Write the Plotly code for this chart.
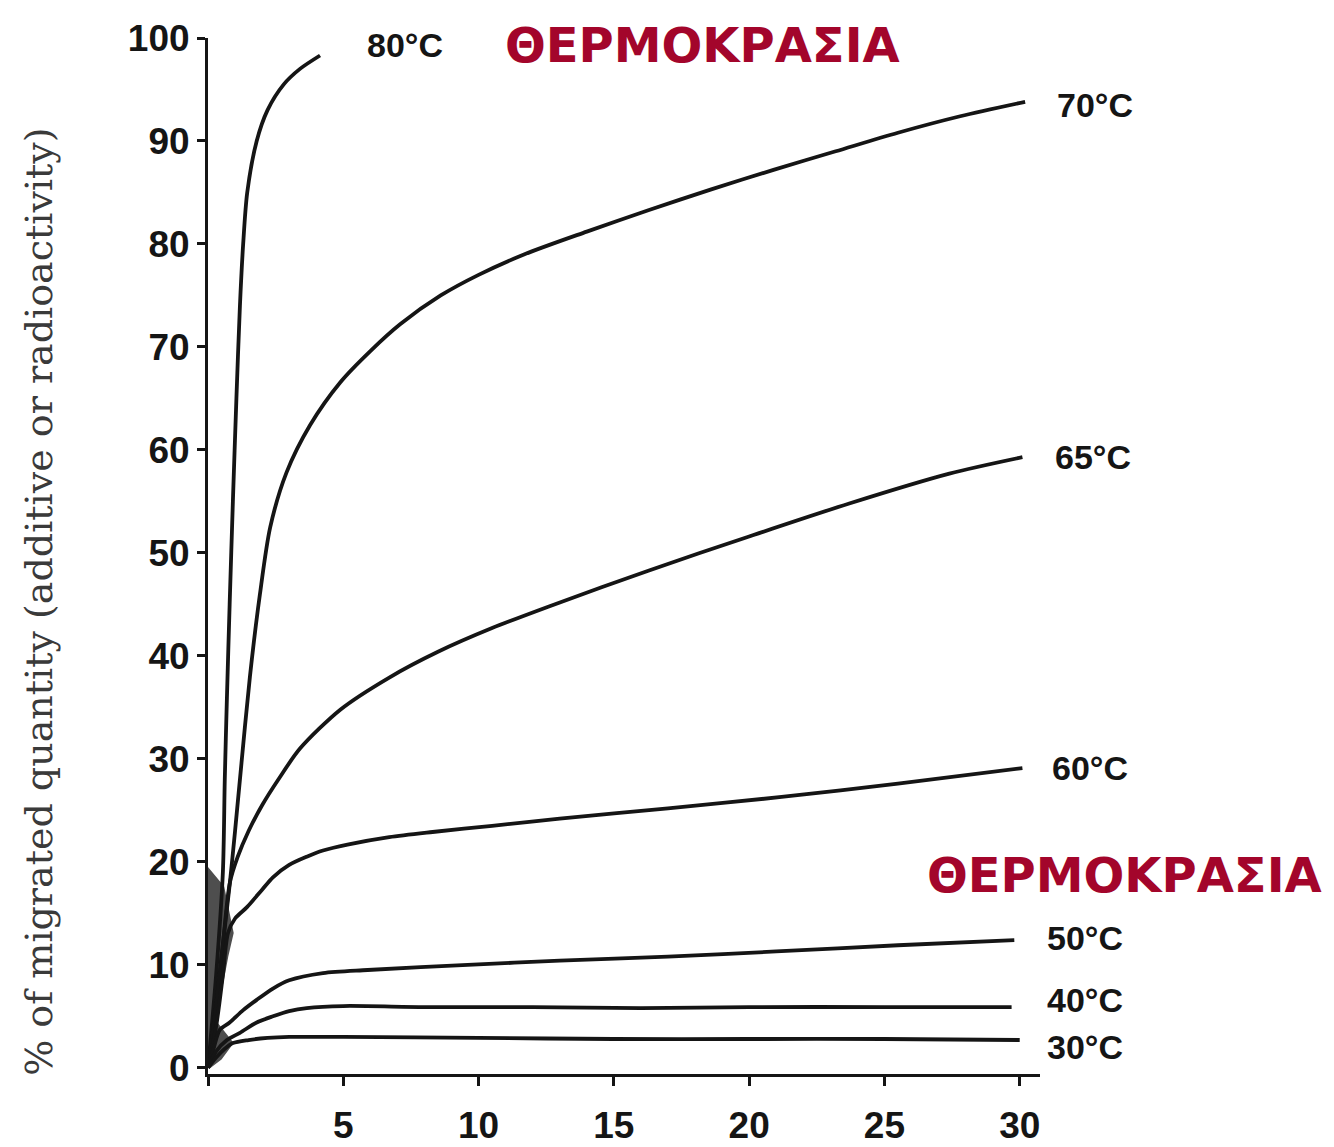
"""
Migration vs time at several temperatures, redrawn with Plotly.
"""
import plotly.graph_objects as go

# ─── Data ─────────────────────────────────────────────────────────────────────

t80 = [0, 0.3, 0.55, 0.62, 0.7, 0.8, 0.92, 1.05, 1.18, 1.3, 1.45, 1.8, 2.2, 2.8, 3.4, 4.14]
m80 = [0, 9, 19, 28, 36, 45, 55, 65, 74, 80, 85, 90, 93, 95.5, 97, 98.3]

t70 = [0, 0.3, 0.55, 0.81, 1.0, 1.18, 1.55, 1.92, 2.3, 2.9, 3.77, 4.9, 6.0, 7.1, 8.6,
       10.0, 11.7, 14.0, 16.3, 18.6, 20.9, 23.2, 25.5, 27.8, 30.2]
m70 = [0, 6, 12, 18, 23, 28, 38, 46, 52.5, 57.8, 62.4, 66.6, 69.6, 72.2, 75.0,
       77.0, 79.0, 81.2, 83.3, 85.3, 87.2, 89, 90.8, 92.4, 93.8]

t65 = [0, 0.3, 0.55, 0.81, 1.1, 1.5, 2.0, 2.6, 3.4, 4.9, 6.7, 8.5, 10.5, 12.6,
       16.3, 20, 23.7, 27.4, 30.1]
m65 = [0, 6, 12, 18, 20.5, 23, 25.5, 28, 31.0, 34.8, 37.9, 40.4, 42.7, 44.8,
       48.3, 51.6, 54.8, 57.7, 59.3]

t60 = [0, 0.3, 0.55, 0.74, 1.0, 1.44, 2.0, 2.4, 3.0, 3.65, 4.25, 5.2, 6.7, 8.3,
       10.5, 13, 17, 21.2, 25.5, 30.1]
m60 = [0, 4, 9, 13.1, 14.5, 15.6, 17.3, 18.5, 19.7, 20.5, 21.1, 21.7, 22.4, 22.9,
       23.5, 24.2, 25.2, 26.3, 27.6, 29.1]

t50 = [0, 0.2, 0.44, 0.8, 1.3, 1.8, 2.4, 3.0, 4.25, 5.9, 9.6, 13, 17, 21, 25.5, 29.8]
m50 = [0, 1.8, 3.7, 4.4, 5.6, 6.6, 7.7, 8.5, 9.2, 9.5, 10, 10.4, 10.8, 11.3, 11.9, 12.4]

t40 = [0, 0.3, 0.7, 1.18, 1.8, 2.4, 3.0, 3.65, 5, 8, 12, 16, 20, 25, 29.7]
m40 = [0, 1.6, 2.7, 3.4, 4.4, 5.0, 5.5, 5.8, 6.0, 5.9, 5.9, 5.8, 5.9, 5.9, 5.9]

t30 = [0, 0.3, 0.6, 0.92, 1.5, 2.2, 3.0, 5, 10, 15, 20, 25, 30]
m30 = [0, 1.0, 1.8, 2.4, 2.7, 2.9, 3.0, 3.0, 2.9, 2.8, 2.8, 2.8, 2.7]

# shaded envelope near the origin where the curves merge
wedge_t = [0, 0, 0.6, 0.95, 0.75, 0.45, 0.35, 0.95, 0.5, 0.1]
wedge_m = [0, 19.5, 17.6, 13.1, 10.8, 6.6, 4.4, 2.4, 0.8, 0]

series = [
    ("80°C", t80, m80),
    ("70°C", t70, m70),
    ("65°C", t65, m65),
    ("60°C", t60, m60),
    ("50°C", t50, m50),
    ("40°C", t40, m40),
    ("30°C", t30, m30),
]

# label anchor (time, %) for each curve
label_pos = {
    "80°C": (7.28, 99.3),
    "70°C": (32.77, 93.5),
    "65°C": (32.7, 59.3),
    "60°C": (32.6, 29.1),
    "50°C": (32.4, 12.6),
    "40°C": (32.4, 6.6),
    "30°C": (32.4, 2.0),
}

x_ticks = [0, 5, 10, 15, 20, 25, 30]
x_ticktext = ["", "5", "10", "15", "20", "25", "30"]
y_ticks = [0, 10, 20, 30, 40, 50, 60, 70, 80, 90, 100]

y_title = "% of migrated quantity (additive or radioactivity)"
banner = "ΘΕΡΜΟΚΡΑΣΙΑ"

X_RANGE = [0, 30.75]
Y_RANGE = [-0.6, 100]

# ─── Style ────────────────────────────────────────────────────────────────────

_INK = "#151515"
_RED = "#A3052B"
_SANS = "Liberation Sans, Arial, sans-serif"
_TICK_FONT = dict(family=_SANS, size=37, color=_INK, weight="bold")


def _paper(x, y):
    """Data -> paper coords (annotations outside the range are otherwise hidden)."""
    px = (x - X_RANGE[0]) / (X_RANGE[1] - X_RANGE[0])
    py = (y - Y_RANGE[0]) / (Y_RANGE[1] - Y_RANGE[0])
    return px, py


fig = go.Figure()

fig.add_trace(go.Scatter(
    x=wedge_t, y=wedge_m, mode="lines", fill="toself",
    fillcolor="#4e4e4e", line=dict(width=0, color="#4e4e4e"),
    hoverinfo="skip", showlegend=False,
))

for name, t, m in series:
    fig.add_trace(go.Scatter(
        x=t, y=m, mode="lines", name=name,
        line=dict(color=_INK, width=3.8, shape="spline", smoothing=0.8),
        showlegend=False,
    ))

for name, (lx, ly) in label_pos.items():
    ax, ay = _paper(lx, ly)
    fig.add_annotation(
        x=ax, y=ay, xref="paper", yref="paper", text=name, showarrow=False,
        xanchor="center", yanchor="middle",
        font=dict(family=_SANS, size=34, color=_INK, weight="bold"),
    )

# y-axis title (serif, rotated)
fig.add_annotation(
    x=-0.204, y=0.456, xref="paper", yref="paper", text=y_title,
    textangle=-90, showarrow=False, xanchor="center", yanchor="middle",
    font=dict(family="DejaVu Serif, serif", size=38, color="#3a3a3a"),
)

# red banners
for bx, by in [(0.594, 0.993), (1.102, 0.192)]:
    fig.add_annotation(
        x=bx, y=by, xref="paper", yref="paper", text=banner, showarrow=False,
        xanchor="center", yanchor="middle",
        font=dict(family="DejaVu Sans, Verdana, sans-serif", size=48, color=_RED, weight="bold"),
    )

# page body has an 8px margin, so the figure is 8px smaller on each axis
fig.update_layout(
    width=1326, height=1139,
    paper_bgcolor="white", plot_bgcolor="white",
    margin=dict(l=200, r=294, t=30, b=73),
    showlegend=False,
)
fig.update_xaxes(
    range=X_RANGE, showgrid=False, zeroline=False, automargin=False,
    showline=True, linecolor=_INK, linewidth=3,
    ticks="outside", ticklen=9, tickwidth=3, tickcolor=_INK,
    tickvals=x_ticks, ticktext=x_ticktext,
    tickfont=_TICK_FONT, ticklabelstandoff=8,
)
fig.update_yaxes(
    range=Y_RANGE, showgrid=False, zeroline=False, automargin=False,
    showline=True, linecolor=_INK, linewidth=3,
    ticks="outside", ticklen=8, tickwidth=3, tickcolor=_INK,
    tickvals=y_ticks, tickfont=_TICK_FONT, ticklabelstandoff=0,
)

fig.write_html("out.html")
